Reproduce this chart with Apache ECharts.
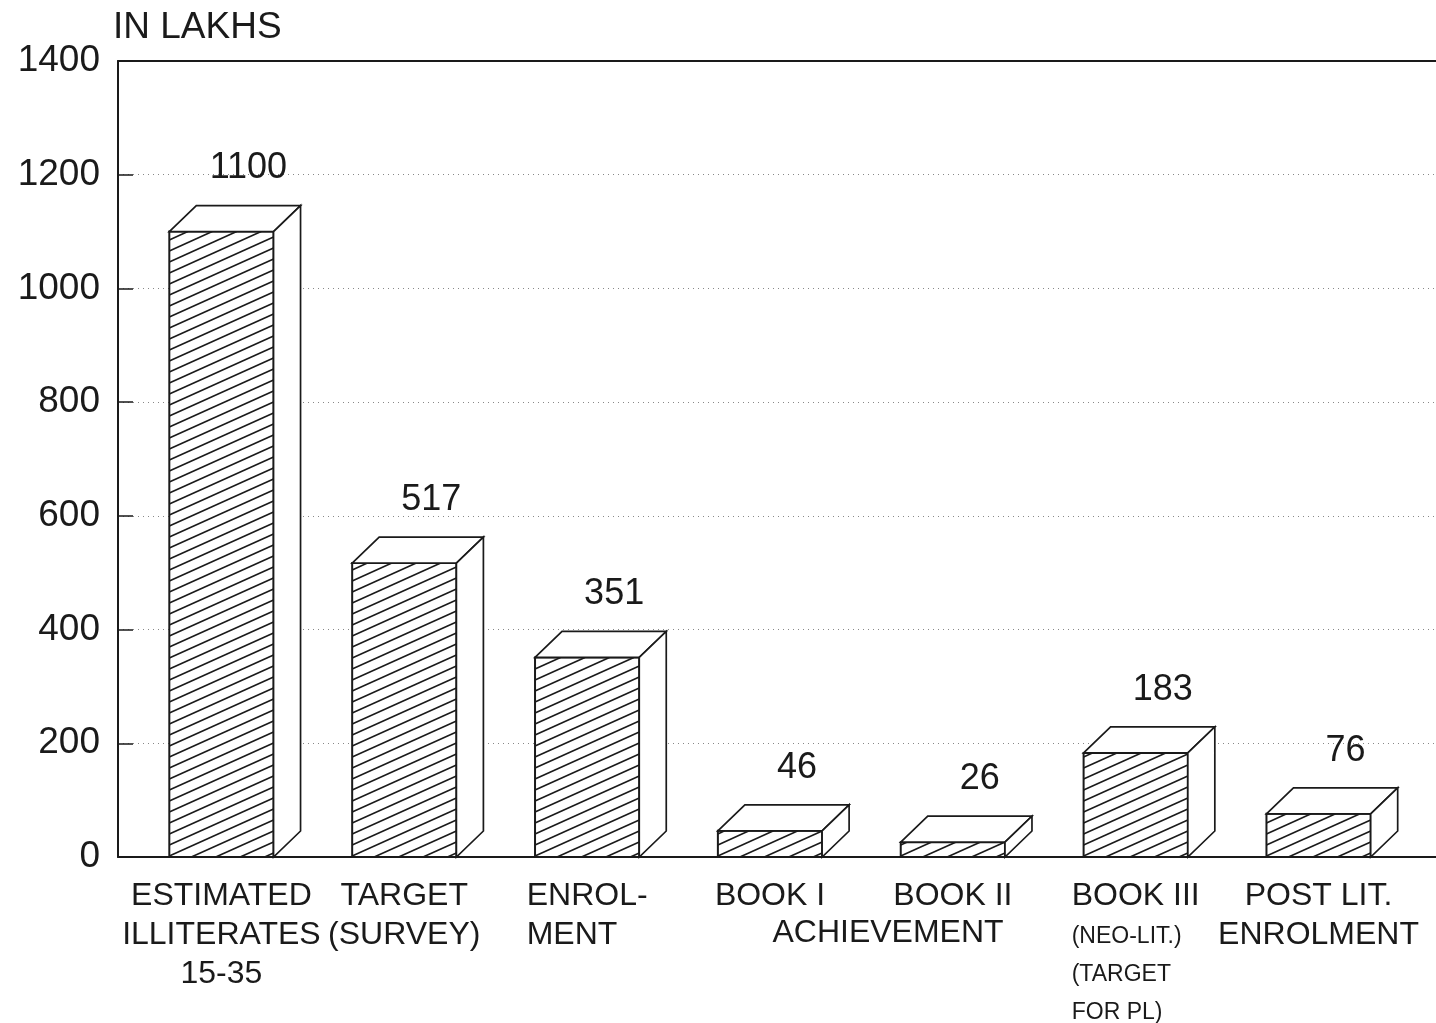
<!DOCTYPE html>
<html>
<head>
<meta charset="utf-8">
<script src="https://cdn.jsdelivr.net/npm/echarts@6/dist/echarts.min.js"></script>
<style>
  html, body { margin: 0; padding: 0; background: #fff; }
  #chart { width: 1436px; height: 1023px; }
</style>
</head>
<body>
<div id="chart"></div>
<script>
// data (in lakhs)
const categories = [
  'ESTIMATED\nILLITERATES\n15-35',
  'TARGET\n(SURVEY)',
  'ENROL-\nMENT',
  'BOOK I',
  'BOOK II',
  'BOOK III\n(NEO-LIT.)\n(TARGET\nFOR PL)',
  'POST LIT.\nENROLMENT'
];
const values = [1100, 517, 351, 46, 26, 183, 76];
const yMin = 0, yMax = 1400, yStep = 200;

const FONT = '"Liberation Sans", Arial, sans-serif';
const INK = '#1a1a1a';
const DX = 27, DY = -26;        // 3d depth offset
const SLOPE = 0.45, GAP = 11;   // hatch lines

const chart = echarts.init(document.getElementById('chart'));

function renderBar(params, api) {
  const i = api.value(0), v = api.value(1);
  const top = api.coord([i, v]);
  const base = api.coord([i, 0]);
  const w = api.size([1, 0])[0] * 0.57;
  const x0 = top[0] - w / 2, x1 = top[0] + w / 2;
  const yT = top[1], yB = base[1];
  const kids = [];

  kids.push({ type: 'rect', shape: { x: x0, y: yT, width: w, height: yB - yT },
    style: { fill: '#fff', stroke: null } });

  // hatching clipped to the front face
  for (let c = yB + SLOPE * w - 4; c > yT; c -= GAP) {
    const xa = x0 + (c - yB) / SLOPE;
    const xb = x0 + (c - yT) / SLOPE;
    const sx = Math.max(x0, xa), ex = Math.min(x1, xb);
    if (ex - sx > 0.5) {
      kids.push({ type: 'line',
        shape: { x1: sx, y1: c - SLOPE * (sx - x0), x2: ex, y2: c - SLOPE * (ex - x0) },
        style: { stroke: INK, lineWidth: 1.6 } });
    }
  }

  kids.push({ type: 'rect', shape: { x: x0, y: yT, width: w, height: yB - yT },
    style: { fill: null, stroke: INK, lineWidth: 2 } });
  // top face
  kids.push({ type: 'polygon',
    shape: { points: [[x0, yT], [x0 + DX, yT + DY], [x1 + DX, yT + DY], [x1, yT]] },
    style: { fill: '#fff', stroke: INK, lineWidth: 1.7 } });
  // side face
  kids.push({ type: 'polygon',
    shape: { points: [[x1, yT], [x1 + DX, yT + DY], [x1 + DX, yB + DY], [x1, yB]] },
    style: { fill: '#fff', stroke: INK, lineWidth: 1.7 } });
  // value label
  kids.push({ type: 'text', x: top[0] + DX, y: yT + DY - 37,
    style: { text: String(v), fill: INK, font: '36px ' + FONT, align: 'center', verticalAlign: 'middle' } });

  return { type: 'group', children: kids };
}

chart.setOption({
  animation: false,
  backgroundColor: '#fff',
  grid: [
    { left: 130, right: 26, top: 61, bottom: 166, outerBoundsMode: 'none', containLabel: false },
    { left: 118, right: 0, top: 61, bottom: 166, outerBoundsMode: 'none', containLabel: false }
  ],
  xAxis: [
    {
      type: 'category', gridIndex: 0, data: categories,
      axisLine: { show: false }, axisTick: { show: false },
      axisLabel: {
        interval: 0, margin: 20, color: INK, fontFamily: FONT, fontSize: 32, lineHeight: 39,
        formatter: (val, idx) => {
          const lines = val.split('\n');
          if (idx === 5) return lines.map((l, k) => k === 0 ? l : '{s|' + l + '}').join('\n');
          if (idx === 2) return lines[0] + '\n{l|' + lines[1] + '}';
          return val;
        },
        rich: {
          s: { fontSize: 23, lineHeight: 38, fontFamily: FONT, color: INK, align: 'left', padding: [4, 0, 0, 0] },
          l: { fontSize: 32, lineHeight: 39, fontFamily: FONT, color: INK, align: 'left' }
        }
      }
    },
    {
      type: 'value', gridIndex: 1, min: 0, max: 1, position: 'bottom',
      axisLine: { show: true, lineStyle: { color: INK, width: 2 } },
      axisTick: { show: false }, axisLabel: { show: false }, splitLine: { show: false }
    },
    {
      type: 'value', gridIndex: 1, min: 0, max: 1, position: 'top',
      axisLine: { show: true, onZero: false, lineStyle: { color: INK, width: 2 } },
      axisTick: { show: false }, axisLabel: { show: false }, splitLine: { show: false }
    }
  ],
  yAxis: [
    { type: 'value', gridIndex: 0, min: yMin, max: yMax, show: false },
    {
      type: 'value', gridIndex: 1, min: yMin, max: yMax, interval: yStep,
      name: 'IN LAKHS', nameLocation: 'end', nameGap: 33,
      nameTextStyle: { color: INK, fontFamily: FONT, fontSize: 37, align: 'left', verticalAlign: 'middle', padding: [0, 0, 0, -5] },
      axisLine: { show: true, lineStyle: { color: INK, width: 2 } },
      axisTick: { show: true, inside: true, length: 15, lineStyle: { color: INK, width: 1.5 } },
      axisLabel: { color: INK, fontFamily: FONT, fontSize: 37, margin: 18, formatter: v => String(v) },
      splitLine: { show: true, lineStyle: { color: '#888', width: 1, type: [1, 4] } }
    }
  ],
  series: [{
    type: 'custom',
    xAxisIndex: 0, yAxisIndex: 0,
    renderItem: renderBar,
    clip: false,
    data: values.map((v, i) => [i, v])
  }],
  graphic: [{
    type: 'text', x: 888, y: 933,
    style: { text: 'ACHIEVEMENT', fill: INK, font: '32px ' + FONT, align: 'center', verticalAlign: 'middle' }
  }]
});
</script>
</body>
</html>
